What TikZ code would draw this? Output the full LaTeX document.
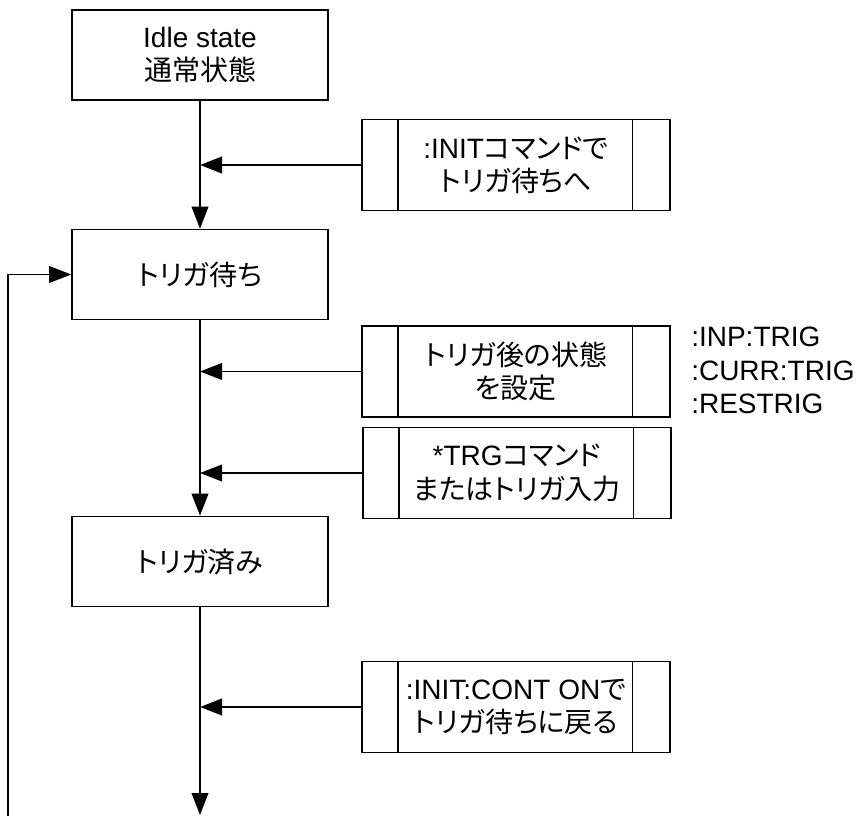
\documentclass[tikz,border=0pt]{standalone}
\usepackage{fontspec}
\setmainfont{Liberation Sans}
\newfontfamily\jpfont[RawFeature=+palt]{Noto Sans CJK JP}
\newcommand\jp[1]{{\jpfont #1}}
\usetikzlibrary{arrows.meta}
\begin{document}
\begin{tikzpicture}[x=0.75pt,y=-0.75pt,
  every node/.style={font=\fontsize{21pt}{25pt}\selectfont, inner sep=0pt, align=center},
  mainbox/.style={draw, line width=1.2pt, minimum width=192pt, minimum height=67.5pt},
  sidebox/.style={draw, line width=1.2pt, minimum width=231pt, minimum height=68pt,
    path picture={
      \draw[line width=1.2pt] ([xshift=27pt]path picture bounding box.north west) -- ([xshift=27pt]path picture bounding box.south west);
      \draw[line width=1.2pt] ([xshift=-28pt]path picture bounding box.north east) -- ([xshift=-28pt]path picture bounding box.south east);
    }},
  conn/.style={line width=1.2pt, -{Triangle[length=16.5pt,width=12.5pt]}}
]
\useasboundingbox (0,0) rectangle (861,816);
\node[mainbox] (b1) at (200,55) {Idle state\\\jp{通常状態}};
\node[mainbox] (b2) at (200,274.5) {\jp{トリガ待ち}};
\node[mainbox] (b3) at (200,561.5) {\jp{トリガ済み}};
\node[sidebox] (s1) at (516,165) {:INIT\jp{コマンドで}\\\jp{トリガ待ちへ}};
\node[sidebox] (s2) at (516,371.5) {\jp{トリガ後の状態}\\\jp{を設定}};
\node[sidebox] (s3) at (517,473) {*TRG\jp{コマンド}\\\jp{またはトリガ入力}};
\node[sidebox] (s4) at (516,707) {:INIT:CONT ON\jp{で}\\\jp{トリガ待ちに戻る}};
\node[anchor=north west, align=left] (cmds) at (691,327) {:INP:TRIG\\:CURR:TRIG\\:RESTRIG};
\coordinate (bot) at (200,815);
\coordinate (lb) at (8,817);
\draw[conn] (b1.south) -- (b2.north);
\draw[conn] (b2.south) -- (b3.north);
\draw[conn] (b3.south) -- (bot);
\draw[conn] (lb) |- (b2.west);
\draw[conn] (s1.west) -- (s1.west -| b1.center);
\draw[conn] (s2.west) -- (s2.west -| b1.center);
\draw[conn] (s3.west) -- (s3.west -| b1.center);
\draw[conn] (s4.west) -- (s4.west -| b1.center);
\end{tikzpicture}
\end{document}
